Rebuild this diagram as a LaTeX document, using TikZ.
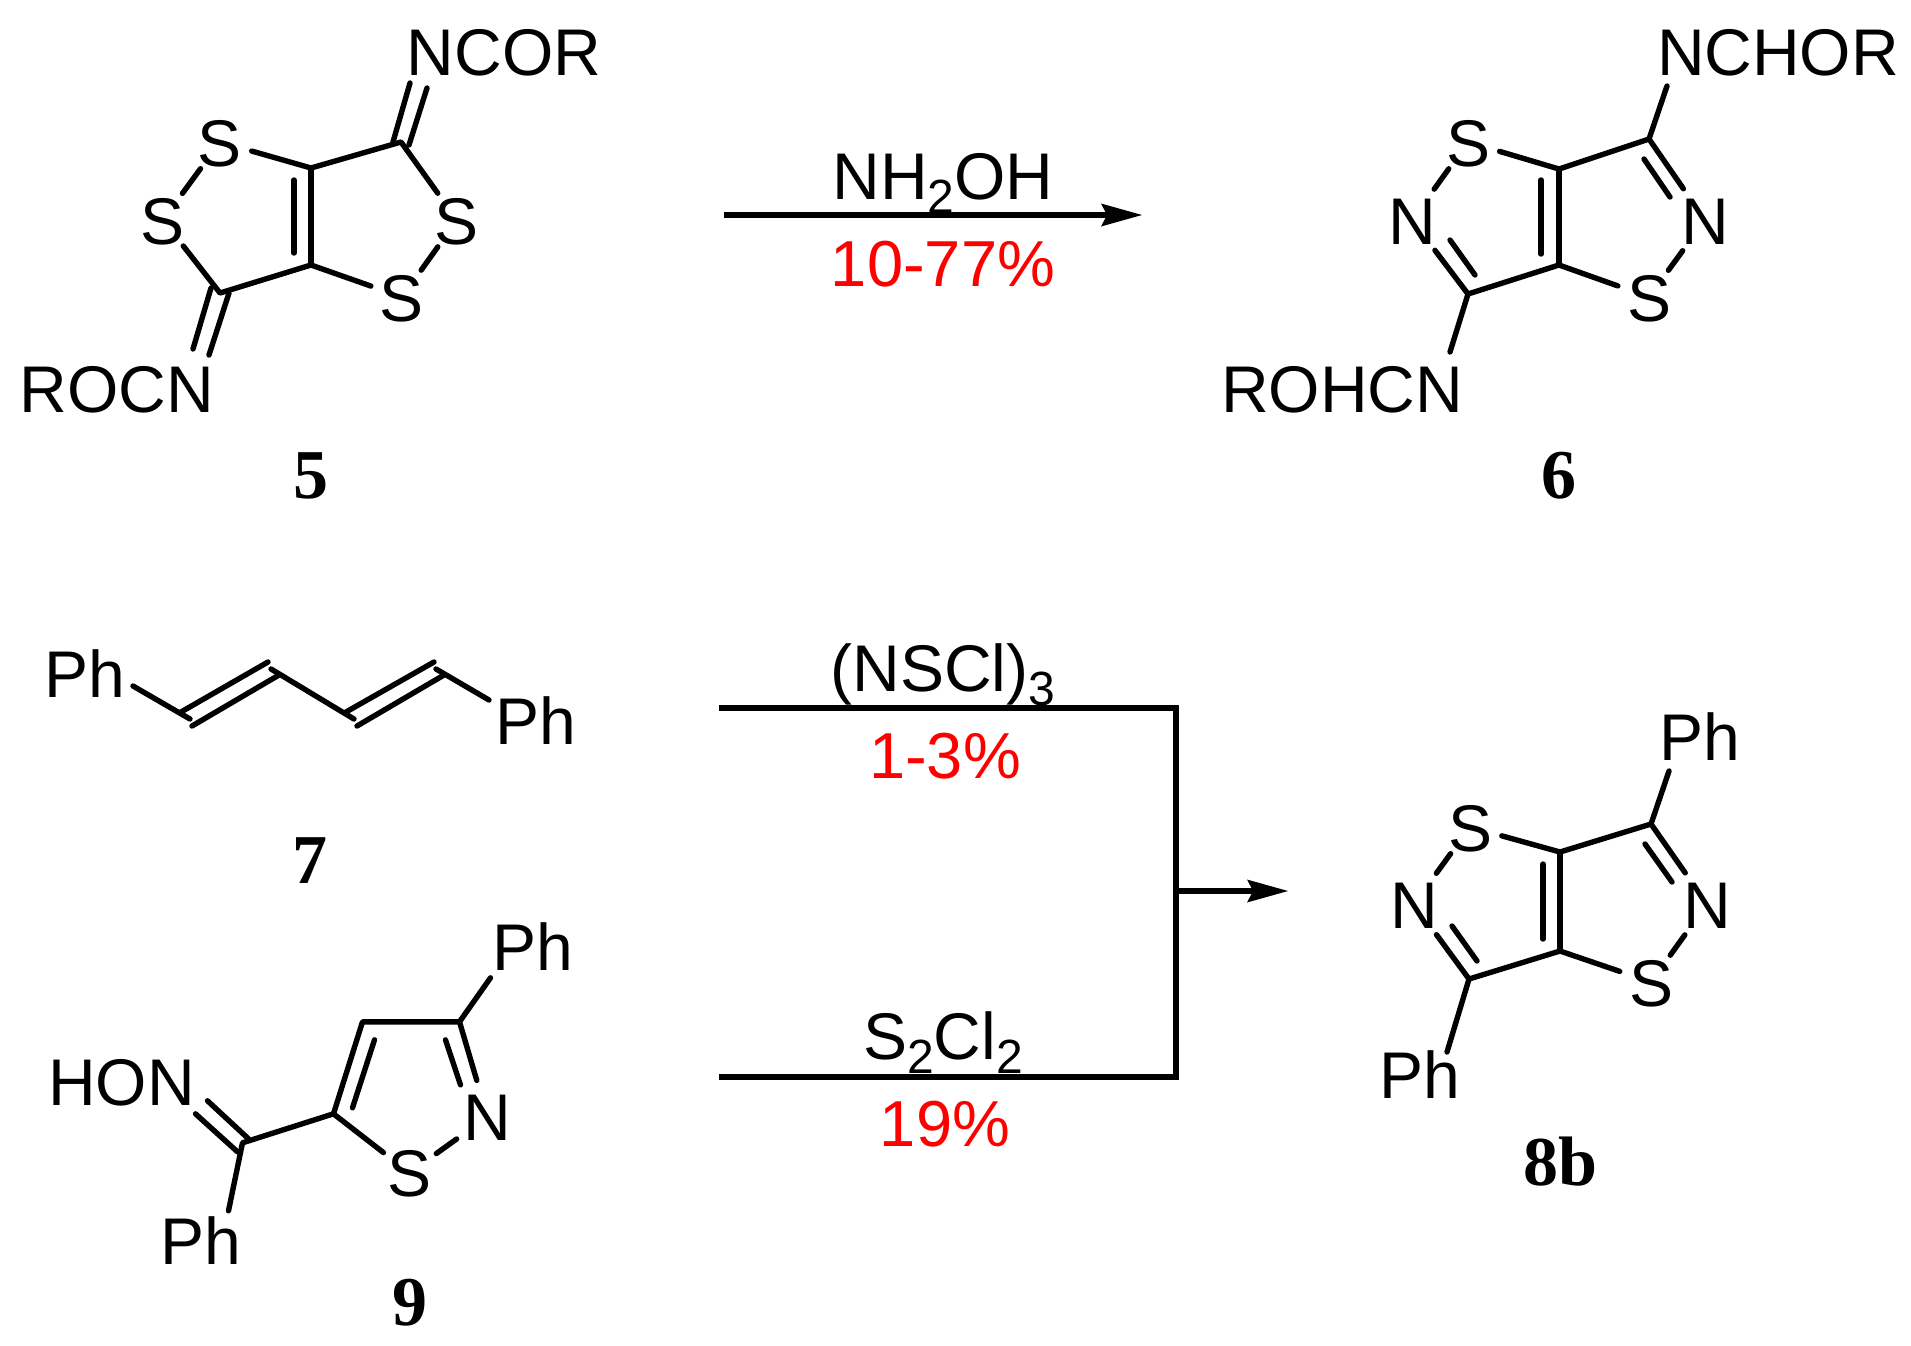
\documentclass[tikz,border=0pt]{standalone}
\usepackage{fontspec}
\setmainfont{Liberation Sans}
\newfontfamily\cmpdfont{Liberation Serif}
\usetikzlibrary{arrows.meta}
\newcommand{\subsc}[1]{\raisebox{-7pt}{\fontsize{24}{24}\selectfont #1}}
\tikzset{
  bond/.style={line width=2.7pt,line cap=round,line join=round,black},
  rxn/.style={line width=2.7pt,black},
  headed/.style={-{Stealth[length=20.5pt,width=11.5pt,inset=3pt,line width=0pt]}},
  atomS/.style={circle,inner sep=0pt,outer sep=0pt,minimum size=33pt,text height=24pt,text depth=0pt,font=\fontsize{33}{33}\selectfont},
  atomN/.style={atomS,minimum size=38pt},
  lbl/.style={inner sep=0pt,outer sep=0pt,anchor=base,font=\fontsize{33}{33}\selectfont},
  yieldlbl/.style={lbl,text=red,font=\fontsize{32.5}{33}\selectfont},
  cmpd/.style={inner sep=0pt,outer sep=0pt,anchor=base,font=\fontsize{35}{35}\selectfont\cmpdfont\bfseries}
}
\begin{document}
\begin{tikzpicture}[x=0.5pt,y=-0.5pt]
\useasboundingbox (0,0) rectangle (1911,1345);
% ---------- compound 5
\begin{scope}[xshift=-0.5pt]
\coordinate (a1) at (312,168);
\coordinate (a2) at (312,265);
\coordinate (a3) at (402,142);
\coordinate (a4) at (221,293);
\node[atomS] (aS1) at (221,142) {S};
\node[atomS] (aS2) at (164,220) {S};
\node[atomS] (aS3) at (458,220) {S};
\node[atomS] (aS4) at (403,297) {S};
\node[lbl] (aR1) at (505,75) {NCOR};
\node[lbl] (aR2) at (118,412) {ROCN};
\node[cmpd] (c5) at (312,498) {5};
\coordinate (ai1) at (295,180);
\coordinate (ai2) at (295,253);
\coordinate (ad1) at (394,142);
\coordinate (ad2) at (411,83);
\coordinate (ad3) at (410,145);
\coordinate (ad4) at (428,88);
\coordinate (ad5) at (212,288);
\coordinate (ad6) at (194,349);
\coordinate (ad7) at (230,293);
\coordinate (ad8) at (210,355);
\draw[bond] (aS1) -- (a1) -- (a3) -- (aS3);
\draw[bond] (aS3) -- (aS4);
\draw[bond] (aS4) -- (a2) -- (a4) -- (aS2);
\draw[bond] (aS2) -- (aS1);
\draw[bond] (a1) -- (a2);
\draw[bond] (ai1) -- (ai2);
\draw[bond] (ad1) -- (ad2);
\draw[bond] (ad3) -- (ad4);
\draw[bond] (ad5) -- (ad6);
\draw[bond] (ad7) -- (ad8);
\end{scope}
% ---------- compound 6
\begin{scope}[xshift=-1pt]
\coordinate (b1) at (1561,169);
\coordinate (b2) at (1561,265);
\coordinate (b3) at (1651,139);
\coordinate (b4) at (1470,294);
\node[atomS] (bS1) at (1470,142) {S};
\node[atomN] (bN1) at (1414,220) {N};
\node[atomN] (bN2) at (1707,220) {N};
\node[atomS] (bS2) at (1651,297) {S};
\node[lbl] (bR1) at (1780,75) {NCHOR};
\node[lbl] (bR2) at (1344,412) {ROHCN};
\node[cmpd] (c6) at (1561,498) {6};
\coordinate (bi1) at (1543,180);
\coordinate (bi2) at (1543,254);
\coordinate (bi3) at (1646,159);
\coordinate (bi4) at (1672,197);
\coordinate (bi5) at (1477,275);
\coordinate (bi6) at (1452,240);
\coordinate (be1) at (1669,86);
\coordinate (be2) at (1452,352);
\draw[bond] (bS1) -- (b1) -- (b3) -- (bN2);
\draw[bond] (bN2) -- (bS2);
\draw[bond] (bS2) -- (b2) -- (b4) -- (bN1);
\draw[bond] (bN1) -- (bS1);
\draw[bond] (b1) -- (b2);
\draw[bond] (bi1) -- (bi2);
\draw[bond] (bi3) -- (bi4);
\draw[bond] (bi5) -- (bi6);
\draw[bond] (b3) -- (be1);
\draw[bond] (b4) -- (be2);
\end{scope}
% ---------- compound 7
\begin{scope}[xshift=-0.5pt]
\node[lbl] (dP1) at (86,697) {Ph};
\node[lbl] (dP2) at (537,744) {Ph};
\node[cmpd] (c7) at (311,883) {7};
\coordinate (d1) at (134,686);
\coordinate (d2) at (191,719);
\coordinate (d3) at (182,712);
\coordinate (d4) at (269,662);
\coordinate (d5) at (193,726);
\coordinate (d6) at (280,675);
\coordinate (d7) at (272,669);
\coordinate (d8) at (355,719);
\coordinate (d9) at (347,712);
\coordinate (d10) at (435,662);
\coordinate (d11) at (358,726);
\coordinate (d12) at (445,675);
\coordinate (d13) at (437,669);
\coordinate (d14) at (490,700);
\draw[bond] (d1) -- (d2);
\draw[bond] (d3) -- (d4);
\draw[bond] (d5) -- (d6);
\draw[bond] (d7) -- (d8);
\draw[bond] (d9) -- (d10);
\draw[bond] (d11) -- (d12);
\draw[bond] (d13) -- (d14);
\end{scope}
% ---------- compound 9
\begin{scope}[xshift=-0.75pt,yshift=0.6pt]
\coordinate (e1) at (364,1023);
\coordinate (e2) at (461,1023);
\coordinate (e3) at (335,1115);
\coordinate (e4) at (244,1144);
\node[atomN] (eN) at (489,1118) {N};
\node[atomS] (eS) at (411,1174) {S};
\node[lbl] (eP1) at (534,972) {Ph};
\node[lbl] (eP2) at (202,1266) {Ph};
\node[lbl] (eH) at (123,1107) {HON};
\node[cmpd] (c9) at (411,1327) {9};
\coordinate (ei1) at (376,1041);
\coordinate (ei2) at (354,1109);
\coordinate (ei3) at (447,1041);
\coordinate (ei4) at (462,1086);
\coordinate (ee1) at (492,979);
\coordinate (ee2) at (250,1140);
\coordinate (ee3) at (209,1102);
\coordinate (ee4) at (239,1153);
\coordinate (ee5) at (197,1115);
\coordinate (ee6) at (230,1212);
\draw[bond] (e3) -- (e1) -- (e2) -- (eN);
\draw[bond] (eN) -- (eS);
\draw[bond] (eS) -- (e3) -- (e4) -- (ee6);
\draw[bond] (ei1) -- (ei2);
\draw[bond] (ei3) -- (ei4);
\draw[bond] (e2) -- (ee1);
\draw[bond] (ee2) -- (ee3);
\draw[bond] (ee4) -- (ee5);
\end{scope}
% ---------- compound 8b
\begin{scope}[xshift=-1pt]
\coordinate (f1) at (1562,852);
\coordinate (f2) at (1562,951);
\coordinate (f3) at (1653,824);
\coordinate (f4) at (1471,979);
\node[atomS] (fS1) at (1472,827) {S};
\node[atomN] (fN1) at (1416,904) {N};
\node[atomN] (fN2) at (1709,904) {N};
\node[atomS] (fS2) at (1653,982) {S};
\node[lbl] (fP1) at (1702,760) {Ph};
\node[lbl] (fP2) at (1422,1098) {Ph};
\node[cmpd] (c8) at (1562,1185) {8b};
\coordinate (fi1) at (1545,864);
\coordinate (fi2) at (1545,939);
\coordinate (fi3) at (1647,844);
\coordinate (fi4) at (1674,882);
\coordinate (fi5) at (1479,961);
\coordinate (fi6) at (1454,926);
\coordinate (fe1) at (1671,771);
\coordinate (fe2) at (1449,1052);
\draw[bond] (fS1) -- (f1) -- (f3) -- (fN2);
\draw[bond] (fN2) -- (fS2);
\draw[bond] (fS2) -- (f2) -- (f4) -- (fN1);
\draw[bond] (fN1) -- (fS1);
\draw[bond] (f1) -- (f2);
\draw[bond] (fi1) -- (fi2);
\draw[bond] (fi3) -- (fi4);
\draw[bond] (fi5) -- (fi6);
\draw[bond] (f3) -- (fe1);
\draw[bond] (f4) -- (fe2);
\end{scope}
% ---------- reaction arrows
\coordinate (r1a) at (724,215);
\coordinate (r1b) at (1142,215);
\draw[rxn,headed] (r1a) -- (r1b);
\node[lbl] (t1) at (943,199) {NH\subsc{2}OH};
\node[yieldlbl] (y1) at (943,286) {10-77\%};
\coordinate (r2a) at (719,708);
\coordinate (r2b) at (1176,708);
\coordinate (r2c) at (1176,1080);
\coordinate (r3a) at (719,1077);
\coordinate (r3b) at (1176,1077);
\coordinate (r4a) at (1173,891);
\coordinate (r4b) at (1288,891);
\draw[rxn] (r2a) -- (r2b) -- (r2c);
\draw[rxn] (r3a) -- (r3b);
\draw[rxn,headed] (r4a) -- (r4b);
\node[lbl] (t2) at (943,691) {(NSCl)\subsc{3}};
\node[yieldlbl] (y2) at (945,778) {1-3\%};
\node[lbl] (t3) at (943,1059) {S\subsc{2}Cl\subsc{2}};
\node[yieldlbl] (y3) at (945,1146) {19\%};
\end{tikzpicture}
\end{document}
